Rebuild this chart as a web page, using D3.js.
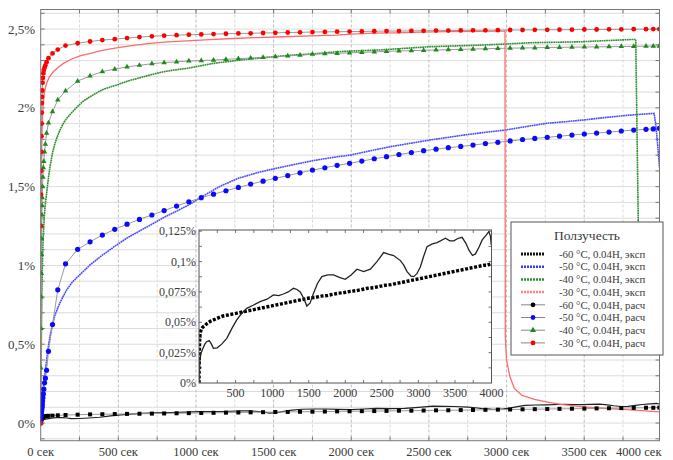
<!DOCTYPE html>
<html><head><meta charset="utf-8">
<script src="https://cdn.jsdelivr.net/npm/d3@7"></script>
<style>body{margin:0;background:#fff}svg{display:block}</style>
</head><body><svg id="c" width="673" height="460"></svg>
<script>
// ---- data ----
const calcTime = [0,1,2,3,4,5,6,7,8,9,10,12,14,17,20,25,30,38,50,76,110,160,
238,318,397,477,556,636,716,795,875,954,1034,1113,1193,1273,1352,1432,1511,1591,1670,1750,
1830,1909,1989,2068,2148,2227,2307,2387,2466,2546,2625,2705,2784,2864,2944,3023,3103,3182,3262,3341,
3421,3501,3580,3660,3739,3819,3898,3945,3984];
const calc30 = [0,1.25,1.45,1.6,1.72,1.82,1.9,1.97,2.03,2.07,2.11,2.16,2.19,2.22,2.24,2.255,2.27,2.29,2.315,2.345,2.37,2.395,
2.41,2.421,2.43,2.436,2.443,2.449,2.454,2.458,2.461,2.464,2.466,2.468,2.47,2.472,2.473,2.475,2.476,2.478,2.479,2.481,
2.482,2.483,2.484,2.485,2.486,2.487,2.487,2.488,2.489,2.49,2.49,2.491,2.492,2.492,2.493,2.494,2.494,2.495,2.495,2.496,
2.496,2.497,2.497,2.498,2.498,2.499,2.499,2.5,2.5];
const calc40 = [0,0.35,0.6,0.8,0.95,1.07,1.17,1.25,1.32,1.38,1.43,1.5,1.56,1.62,1.66,1.72,1.77,1.84,1.905,1.975,2.05,2.107,
2.17,2.202,2.23,2.246,2.26,2.27,2.28,2.287,2.292,2.297,2.3,2.303,2.308,2.312,2.316,2.32,2.325,2.329,2.334,2.34,
2.343,2.346,2.349,2.352,2.355,2.358,2.361,2.363,2.365,2.367,2.369,2.371,2.373,2.375,2.377,2.379,2.38,2.381,2.383,2.384,
2.385,2.386,2.387,2.388,2.389,2.39,2.391,2.392,2.392];
const calc50 = [0,0.02,0.035,0.05,0.06,0.07,0.08,0.09,0.1,0.11,0.12,0.14,0.16,0.185,0.215,0.255,0.285,0.335,0.455,0.625,0.845,1.01,
1.102,1.15,1.193,1.229,1.262,1.292,1.32,1.348,1.377,1.404,1.43,1.452,1.474,1.495,1.516,1.535,1.553,1.57,1.588,1.605,
1.62,1.635,1.648,1.662,1.677,1.69,1.704,1.716,1.728,1.738,1.747,1.755,1.764,1.773,1.781,1.79,1.799,1.806,1.813,1.82,
1.827,1.834,1.84,1.846,1.853,1.859,1.864,1.866,1.87];
const calc60 = [0,0.008,0.014,0.019,0.023,0.026,0.029,0.031,0.033,0.035,0.036,0.038,0.04,0.041,0.042,0.043,0.044,0.045,0.046,0.047,0.049,0.051,
0.053,0.055,0.056,0.057,0.058,0.059,0.06,0.061,0.062,0.063,0.064,0.065,0.066,0.067,0.068,0.069,0.07,0.0705,0.0715,0.072,
0.073,0.074,0.0745,0.0755,0.076,0.077,0.078,0.0785,0.0795,0.0805,0.081,0.082,0.083,0.084,0.085,0.086,0.087,0.088,0.089,0.09,
0.091,0.092,0.093,0.094,0.095,0.096,0.097,0.097,0.098];

const exp60T = [0,5,14,30,50,80,105,140,170,196,250,310,380,450,516,580,653,740,836,930,1018,1090,1155,1220,1292,1340,1384,1430,1475,1520,
1566,1620,1680,1760,1840,1920,2000,2080,2160,2251,2343,2434,2525,2600,2662,2754,2800,2845,2900,2936,2980,3028,3070,3119,3190,3256,3370,3430,3484,3540,
3598,3650,3690,3740,3781,3830,3873,3930,3964,3985,3997];
const exp60V = [0,0.012,0.02,0.025,0.028,0.032,0.034,0.035,0.032,0.0286,0.029,0.032,0.0368,0.045,0.052,0.057,0.0615,0.064,0.067,0.069,
0.0725,0.072,0.0733,0.075,0.078,0.077,0.075,0.07,0.0634,0.066,0.074,0.082,0.0876,0.089,0.089,0.087,0.0854,0.089,0.0937,0.0917,
0.0937,0.1,0.1074,0.106,0.105,0.1008,0.097,0.0917,0.088,0.0876,0.09,0.0958,0.104,0.1123,0.1145,0.1156,0.1192,0.117,0.117,0.119,
0.12,0.115,0.1096,0.105,0.1063,0.112,0.1178,0.122,0.1247,0.121,0.1137];
const exp50T = [0,2,5,10,15,20,28,38,49,60,75,90,113,140,167,200,238,280,317,360,397,440,478,553,639,715,794,876,955,1037,
1150,1272,1400,1515,1630,1749,1910,1992,2120,2249,2380,2507,2620,2721,2850,2990,3120,3258,3380,3494,3650,3795,3950,3960,3972,3985];
const exp50V = [0,0.05,0.1,0.15,0.2,0.25,0.315,0.4,0.484,0.55,0.622,0.68,0.738,0.795,0.844,0.89,0.928,0.967,1.003,1.036,
1.066,1.095,1.123,1.172,1.22,1.261,1.305,1.345,1.385,1.435,1.5,1.553,1.59,1.616,1.64,1.664,1.69,1.7,1.727,1.753,
1.775,1.796,1.812,1.827,1.843,1.859,1.88,1.902,1.912,1.923,1.94,1.954,1.965,1.9,1.78,1.62];
const exp40T = [0,2,5,8,12,17,23,30,38,49,60,75,92,108,124,145,167,200,232,270,317,360,403,450,489,560,639,710,790,860,
940,1020,1111,1200,1283,1370,1455,1540,1627,1710,1798,1910,1992,2185,2350,2507,2670,2829,2990,3151,3310,3473,3650,3816,3832,3848,3862];
const exp40V = [0,0.3,0.6,0.85,1.05,1.2,1.31,1.39,1.457,1.55,1.626,1.71,1.775,1.82,1.859,1.9,1.933,1.97,2.003,2.04,
2.07,2.095,2.117,2.133,2.145,2.17,2.191,2.21,2.229,2.24,2.25,2.265,2.282,2.293,2.303,2.312,2.32,2.328,2.335,2.34,
2.346,2.356,2.36,2.367,2.378,2.388,2.393,2.398,2.405,2.413,2.416,2.419,2.427,2.434,2.434,1.29,0.5];
const exp30T = [0,1,2,3,5,8,12,17,23,30,38,55,81,110,146,200,253,320,382,450,510,600,704,820,940,1090,1240,1400,1562,1740,
1910,2000,2150,2292,2450,2614,2800,2979,2990,2992,3000,3020,3050,3100,3180,3256,3350,3492,3620,3750,3870,3985];
const exp30V = [0,0.6,1.0,1.3,1.6,1.82,1.95,2.03,2.09,2.125,2.155,2.195,2.229,2.255,2.282,2.31,2.329,2.345,2.362,2.374,
2.384,2.397,2.409,2.418,2.425,2.433,2.44,2.446,2.451,2.457,2.462,2.468,2.474,2.476,2.48,2.483,2.485,2.487,2.488,0.55,
0.4,0.3,0.22,0.175,0.15,0.135,0.118,0.103,0.094,0.087,0.079,0.071];

const xTicks = [0,500,1000,1500,2000,2500,3000,3500,4000];
const xTickLabels = ["0 сек","500 сек","1000 сек","1500 сек","2000 сек","2500 сек","3000 сек","3500 сек","4000 сек"];
const yTicks = [0,0.5,1,1.5,2,2.5];
const yTickLabels = ["0%","0,5%","1%","1,5%","2%","2,5%"];
const insetXTicks = [500,1000,1500,2000,2500,3000,3500,4000];
const insetYTicks = [0,0.025,0.05,0.075,0.1,0.125];
const insetYTickLabels = ["0%","0,025%","0,05%","0,075%","0,1%","0,125%"];
const legendTitle = "Ползучесть";
const legendLabels = ["-60 °C, 0.04Н, эксп","-50 °C, 0.04Н, эксп","-40 °C, 0.04Н, эксп","-30 °C, 0.04Н, эксп",
"-60 °C, 0.04Н, расч","-50 °C, 0.04Н, расч","-40 °C, 0.04Н, расч","-30 °C, 0.04Н, расч"];

// ---- drawing ----
const FONT = '"Liberation Serif", "DejaVu Serif", serif';
const svg = d3.select("#c");
const TXT = "#3a3a3a";
const L=40.7, R=659.5, T=9.5, B=440.7;
const x = d3.scaleLinear().domain([0,3985]).range([L,R]);
const y = d3.scaleLinear().domain([-0.112,2.624]).range([B,T]);

svg.append("clipPath").attr("id","pc").append("rect").attr("x",L).attr("y",T).attr("width",R-L).attr("height",B-T);

const grid = svg.append("g");
for (let v=-0.1; v<2.62; v+=0.1) {
  const yy = y(+v.toFixed(2));
  grid.append("line").attr("x1",L).attr("x2",R).attr("y1",yy).attr("y2",yy).attr("stroke","#dcdcdc").attr("stroke-width",1);
}
for (let t=250; t<3985; t+=250) {
  const major = t%500===0;
  grid.append("line").attr("x1",x(t)).attr("x2",x(t)).attr("y1",T).attr("y2",B)
    .attr("stroke",major?"#bdbdbd":"#dadada").attr("stroke-dasharray","3,2").attr("stroke-width",1);
}
const tk = svg.append("g").attr("stroke","#777").attr("stroke-width",1);
for (let v=-0.1; v<2.62; v+=0.1) {
  const yy = y(+v.toFixed(2));
  tk.append("line").attr("x1",L).attr("x2",L+4).attr("y1",yy).attr("y2",yy);
  tk.append("line").attr("x1",R-4).attr("x2",R).attr("y1",yy).attr("y2",yy);
}
for (let t=250; t<3985; t+=250) {
  tk.append("line").attr("x1",x(t)).attr("x2",x(t)).attr("y1",B).attr("y2",B-4);
  tk.append("line").attr("x1",x(t)).attr("x2",x(t)).attr("y1",T).attr("y2",T+4);
}

svg.append("g").selectAll("text").data(yTicks).join("text")
  .attr("x",35).attr("y",d=>y(d)).attr("dy","0.35em").attr("text-anchor","end").attr("font-size",13).attr("fill",TXT)
  .style("font-family",FONT).text((d,i)=>yTickLabels[i]);
svg.append("g").selectAll("text").data(xTicks).join("text")
  .attr("x",(d,i)=> i===xTicks.length-1 ? R+2 : x(d)).attr("y",456).attr("fill",TXT)
  .attr("text-anchor",(d,i)=> i===xTicks.length-1 ? "end":"middle").attr("font-size",12.5)
  .style("font-family",FONT).text((d,i)=>xTickLabels[i]);

const plot = svg.append("g").attr("clip-path","url(#pc)");
const mk = (T,V,sx,sy)=> d3.line().x((d,i)=>sx(T[i])).y((d,i)=>sy(V[i]))(V);

plot.append("path").attr("d",mk(exp60T,exp60V,x,y)).attr("fill","none").attr("stroke","#222").attr("stroke-width",1.2);
plot.append("path").attr("d",mk(exp50T,exp50V,x,y)).attr("fill","none").attr("stroke","#4a4aff").attr("stroke-width",1.6).attr("stroke-dasharray","1.8,0.5");
plot.append("path").attr("d",mk(exp40T,exp40V,x,y)).attr("fill","none").attr("stroke","#2f8f2f").attr("stroke-width",1.6).attr("stroke-dasharray","1.8,0.5");
plot.append("path").attr("d",mk(exp30T,exp30V,x,y)).attr("fill","none").attr("stroke","#ff6a6a").attr("stroke-width",1.3);

const calcSeries = [
  {v:calc60, color:"#000", shape:"square"},
  {v:calc50, color:"#0a0aff", shape:"circle", r:2.6},
  {v:calc40, color:"#1d8a1d", shape:"triangle"},
  {v:calc30, color:"#ff0000", shape:"circle", r:2.4}];
calcSeries.forEach(s=>{
  plot.append("path").attr("d",mk(calcTime,s.v,x,y)).attr("fill","none").attr("stroke","#9a9a9a").attr("stroke-width",1);
});
calcSeries.forEach(s=>{
  const g = plot.append("g");
  s.v.forEach((v,i)=>{
    const cx=x(calcTime[i]), cy=y(v);
    if (s.shape==="circle") g.append("circle").attr("cx",cx).attr("cy",cy).attr("r",s.r).attr("fill",s.color);
    else if (s.shape==="square") g.append("rect").attr("x",cx-2).attr("y",cy-2).attr("width",4).attr("height",4).attr("fill",s.color);
    else g.append("path").attr("d",d3.symbol(d3.symbolTriangle,13)()).attr("transform",`translate(${cx},${cy})`).attr("fill",s.color);
  });
});

svg.append("rect").attr("x",L).attr("y",T).attr("width",R-L).attr("height",B-T).attr("fill","none").attr("stroke","#777");

// ---- inset ----
const iL=199, iR=491.5, iT=230, iB=383;
const ix = d3.scaleLinear().domain([0,4000]).range([iL,iR]);
const iy = d3.scaleLinear().domain([0,0.126]).range([iB,iT]);
svg.append("rect").attr("x",iL).attr("y",iT).attr("width",iR-iL).attr("height",iB-iT).attr("fill","#fff");
svg.append("clipPath").attr("id","ic").append("rect").attr("x",iL).attr("y",iT).attr("width",iR-iL).attr("height",iB-iT);
const itk = svg.append("g").attr("stroke","#777");
for (let t=250;t<4000;t+=250){
  itk.append("line").attr("x1",ix(t)).attr("x2",ix(t)).attr("y1",iB).attr("y2",iB-3);
  itk.append("line").attr("x1",ix(t)).attr("x2",ix(t)).attr("y1",iT).attr("y2",iT+3);
}
for (let v=0.0125; v<0.126; v+=0.0125){
  itk.append("line").attr("x1",iL).attr("x2",iL+3).attr("y1",iy(v)).attr("y2",iy(v));
  itk.append("line").attr("x1",iR-3).attr("x2",iR).attr("y1",iy(v)).attr("y2",iy(v));
}
const ip = svg.append("g").attr("clip-path","url(#ic)");
ip.append("path").attr("d",mk(calcTime,calc60,ix,iy)).attr("fill","none").attr("stroke","#000").attr("stroke-width",3.4).attr("stroke-dasharray","3,1.6");
ip.append("path").attr("d",mk(exp60T,exp60V,ix,iy)).attr("fill","none").attr("stroke","#222").attr("stroke-width",1.3);
svg.append("rect").attr("x",iL).attr("y",iT).attr("width",iR-iL).attr("height",iB-iT).attr("fill","none").attr("stroke","#555");
svg.append("g").selectAll("text").data(insetYTicks).join("text")
  .attr("x",196).attr("y",d=>iy(d)).attr("dy","0.35em").attr("text-anchor","end").attr("font-size",12).attr("fill",TXT)
  .style("font-family",FONT).text((d,i)=>insetYTickLabels[i]);
svg.append("g").selectAll("text").data(insetXTicks).join("text")
  .attr("x",d=>ix(d)).attr("y",397).attr("text-anchor","middle").attr("font-size",12).attr("fill",TXT)
  .style("font-family",FONT).text(d=>d);

// ---- legend ----
const lg = svg.append("g");
lg.append("rect").attr("x",511).attr("y",222).attr("width",152).attr("height",133).attr("fill","#fff").attr("stroke","#555");
lg.append("text").attr("x",587).attr("y",240).attr("text-anchor","middle").attr("font-size",13.5).attr("fill",TXT)
  .style("font-family",FONT).text(legendTitle);
const legStyle = [
  {c:"#111",w:3,dash:"2,1"},{c:"#3a3aff",w:2.5,dash:"2,1"},{c:"#2f8f2f",w:2.5,dash:"2,1"},{c:"#ff8080",w:2.5,dash:"2,1"},
  {c:"#000",m:"circle"},{c:"#0a0aff",m:"circle"},{c:"#1d8a1d",m:"triangle"},{c:"#ff0000",m:"circle"}];
legendLabels.forEach((lab,i)=>{
  const yy = 254 + i*12.7;
  const s = legStyle[i];
  if (!s.m) {
    lg.append("line").attr("x1",521).attr("x2",545).attr("y1",yy).attr("y2",yy).attr("stroke",s.c).attr("stroke-width",s.w).attr("stroke-dasharray",s.dash);
  } else {
    lg.append("line").attr("x1",521).attr("x2",545).attr("y1",yy).attr("y2",yy).attr("stroke","#888").attr("stroke-width",1);
    if (s.m==="circle") lg.append("circle").attr("cx",533).attr("cy",yy).attr("r",2.4).attr("fill",s.c);
    else lg.append("path").attr("d",d3.symbol(d3.symbolTriangle,16)()).attr("transform",`translate(533,${yy})`).attr("fill",s.c);
  }
  lg.append("text").attr("x",559).attr("y",yy).attr("dy","0.35em").attr("font-size",10.8).attr("fill",TXT)
    .style("font-family",FONT).text(lab);
});
</script></body></html>
